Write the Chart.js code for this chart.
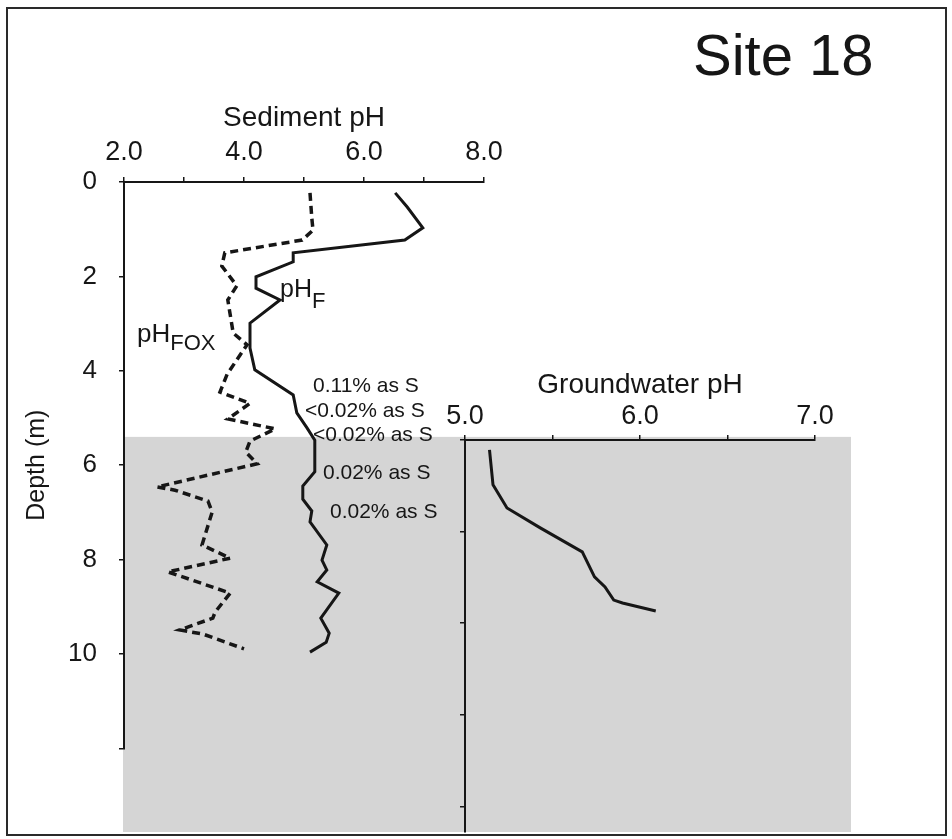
<!DOCTYPE html>
<html>
<head>
<meta charset="utf-8">
<script src="https://cdn.jsdelivr.net/npm/chart.js@4.4.1/dist/chart.umd.min.js"></script>
<style>
  body { margin: 0; background: #fff; }
  #wrap { position: relative; width: 952px; height: 839px; }
  #wrap canvas { position: absolute; left: 0; top: 0; }
  #frame { position: absolute; left: 6px; top: 7px; width: 937px; height: 825px; border: 2px solid #2a2a2a; }
</style>
</head>
<body>
<div id="wrap">
  <canvas id="sediment" width="952" height="839"></canvas>
  <canvas id="groundwater" width="952" height="839"></canvas>
  <div id="frame"></div>
</div>
<script>
// pH_F profile (fresh sediment), depth in m
var fDepth = [0.23, 0.53, 0.97, 1.23, 1.50, 1.69, 2.01, 2.25, 2.50, 2.99, 3.52, 3.98, 4.51, 4.89, 5.21, 5.47,
              6.14, 6.44, 6.72, 6.97, 7.20, 7.69, 8.01, 8.22, 8.47, 8.71, 9.24, 9.56, 9.75, 9.96];
var fPH = [6.52, 6.72, 6.98, 6.68, 4.82, 4.82, 4.20, 4.20, 4.60, 4.10, 4.10, 4.18, 4.82, 4.88, 5.05, 5.18,
           5.18, 4.98, 4.98, 5.13, 5.10, 5.38, 5.30, 5.38, 5.22, 5.58, 5.28, 5.42, 5.37, 5.10];

// pH_FOX profile (after peroxide oxidation)
var foxDepth = [0.23, 0.76, 1.02, 1.23, 1.50, 1.78, 2.20, 2.50, 3.20, 3.45, 4.07, 4.45, 4.69, 5.02, 5.23, 5.49,
                5.72, 5.97, 6.46, 6.53, 6.76, 6.99, 7.69, 7.97, 8.26, 8.71, 9.11, 9.24, 9.49, 9.58, 9.89];
var foxPH = [5.10, 5.13, 5.15, 4.97, 3.68, 3.63, 3.88, 3.73, 3.82, 4.05, 3.72, 3.60, 4.10, 3.73, 4.52, 4.10,
             4.03, 4.22, 2.55, 2.85, 3.40, 3.47, 3.30, 3.77, 2.73, 3.77, 3.52, 3.48, 2.93, 3.32, 4.00];

// groundwater pH below the water table
var gwDepth = [5.68, 6.42, 6.91, 7.33, 7.84, 8.37, 8.58, 8.86, 8.92, 9.09];
var gwPH = [5.14, 5.16, 5.24, 5.43, 5.67, 5.74, 5.80, 5.85, 5.90, 6.09];

// sulfur contents noted beside the profile
var sulfurDepth = [4.32, 4.85, 5.36, 6.17, 6.99];
var sulfurText = ['0.11% as S', '<0.02% as S', '<0.02% as S', '0.02% as S', '0.02% as S'];

var waterTable = 5.4;
var gwTop = 5.47, gwBottom = 13.77;

var FONT = '"Liberation Sans", Arial, Helvetica, sans-serif';
var INK = '#161616';
Chart.defaults.font.family = FONT;
Chart.defaults.color = INK;

function pts(xs, ys) {
  return xs.map(function (v, i) { return { x: v, y: ys[i] }; });
}

function subLabel(ctx, x, y, main, sub, size, subSize, drop) {
  ctx.font = size + 'px ' + FONT;
  ctx.fillText(main, x, y);
  var w = ctx.measureText(main).width;
  ctx.font = subSize + 'px ' + FONT;
  ctx.fillText(sub, x + w, y + drop);
}

var axisLine = { display: true, color: INK, width: 2 };
var tickMarks = { display: true, drawOnChartArea: false, drawTicks: true, tickLength: 5, color: INK, lineWidth: 1.5 };

// gray band for the saturated zone, labels and title
var sedimentNotes = {
  id: 'sedimentNotes',
  beforeDraw: function (chart) {
    var ctx = chart.ctx, area = chart.chartArea, y = chart.scales.y;
    var top = y.getPixelForValue(waterTable);
    ctx.save();
    ctx.fillStyle = '#d5d5d5';
    ctx.fillRect(area.left - 1, top, 851 - area.left + 1, 832 - top);
    ctx.restore();
  },
  beforeDatasetsDraw: function (chart) {
    var ctx = chart.ctx, y = chart.scales.y;
    var noteLeft = [313, 305, 313, 323, 330];
    ctx.save();
    ctx.fillStyle = INK;
    ctx.textBaseline = 'middle';
    ctx.textAlign = 'left';
    ctx.font = '21px ' + FONT;
    sulfurText.forEach(function (t, i) {
      ctx.fillText(t, noteLeft[i], y.getPixelForValue(sulfurDepth[i]));
    });
    ctx.restore();
  },
  afterDraw: function (chart) {
    var ctx = chart.ctx;
    ctx.save();
    ctx.fillStyle = INK;
    ctx.textBaseline = 'alphabetic';
    ctx.textAlign = 'left';
    subLabel(ctx, 280, 297, 'pH', 'F', 25, 22, 11);
    subLabel(ctx, 137, 342, 'pH', 'FOX', 26, 22, 8);
    ctx.font = '58px ' + FONT;
    ctx.fillText('Site 18', 693, 75);
    ctx.restore();
  }
};

new Chart(document.getElementById('sediment'), {
  type: 'scatter',
  data: {
    datasets: [{
      label: 'pH F',
      data: pts(fPH, fDepth),
      showLine: true,
      borderColor: INK,
      borderWidth: 3,
      pointRadius: 0
    }, {
      label: 'pH FOX',
      data: pts(foxPH, foxDepth),
      showLine: true,
      borderColor: INK,
      borderWidth: 3.5,
      borderDash: [8, 5],
      pointRadius: 0
    }]
  },
  options: {
    responsive: false,
    animation: false,
    layout: { padding: { left: 10, top: 60, right: 468, bottom: 90.6 } },
    plugins: { legend: { display: false }, tooltip: { enabled: false } },
    scales: {
      x: {
        type: 'linear',
        position: 'top',
        min: 2, max: 8,
        border: axisLine,
        grid: tickMarks,
        ticks: {
          stepSize: 1,
          padding: 8,
          font: { size: 27 },
          color: INK,
          maxRotation: 0,
          callback: function (v) { return v % 2 === 0 ? v.toFixed(1) : ''; }
        },
        title: { display: true, text: 'Sediment pH', font: { size: 28 }, color: INK, padding: { top: 41, bottom: 0 } },
        afterFit: function (s) { s.height = 122; }
      },
      y: {
        type: 'linear',
        reverse: true,
        min: 0, max: 12,
        border: axisLine,
        grid: tickMarks,
        ticks: {
          stepSize: 2,
          padding: 22,
          font: { size: 26 },
          color: INK,
          callback: function (v) { return v === 12 ? '' : v; }
        },
        title: { display: true, text: 'Depth (m)', font: { size: 25 }, color: INK, padding: { top: 12, bottom: 0 } },
        afterFit: function (s) { s.width = 114; }
      }
    }
  },
  plugins: [sedimentNotes]
});

new Chart(document.getElementById('groundwater'), {
  type: 'scatter',
  data: {
    datasets: [{
      label: 'Groundwater pH',
      data: pts(gwPH, gwDepth),
      showLine: true,
      borderColor: INK,
      borderWidth: 3,
      pointRadius: 0
    }]
  },
  options: {
    responsive: false,
    animation: false,
    layout: { padding: { left: 445, top: 350, right: 137, bottom: 7 } },
    plugins: { legend: { display: false }, tooltip: { enabled: false } },
    scales: {
      x: {
        type: 'linear',
        position: 'top',
        min: 5, max: 7,
        border: axisLine,
        grid: tickMarks,
        ticks: {
          stepSize: 0.5,
          padding: 2,
          font: { size: 27 },
          color: INK,
          maxRotation: 0,
          callback: function (v) { return Number.isInteger(v) ? v.toFixed(1) : ''; }
        },
        title: { display: true, text: 'Groundwater pH', font: { size: 28 }, color: INK, padding: { top: 18, bottom: 0 } },
        afterFit: function (s) { s.height = 90; }
      },
      y: {
        type: 'linear',
        reverse: true,
        min: gwTop, max: gwBottom,
        border: axisLine,
        grid: tickMarks,
        ticks: { display: false },
        afterBuildTicks: function (s) {
          s.ticks = [0, 1, 2, 3, 4].map(function (k) { return { value: gwTop + 1.94 * k }; });
        },
        afterFit: function (s) { s.width = 20; }
      }
    }
  }
});
</script>
</body>
</html>
